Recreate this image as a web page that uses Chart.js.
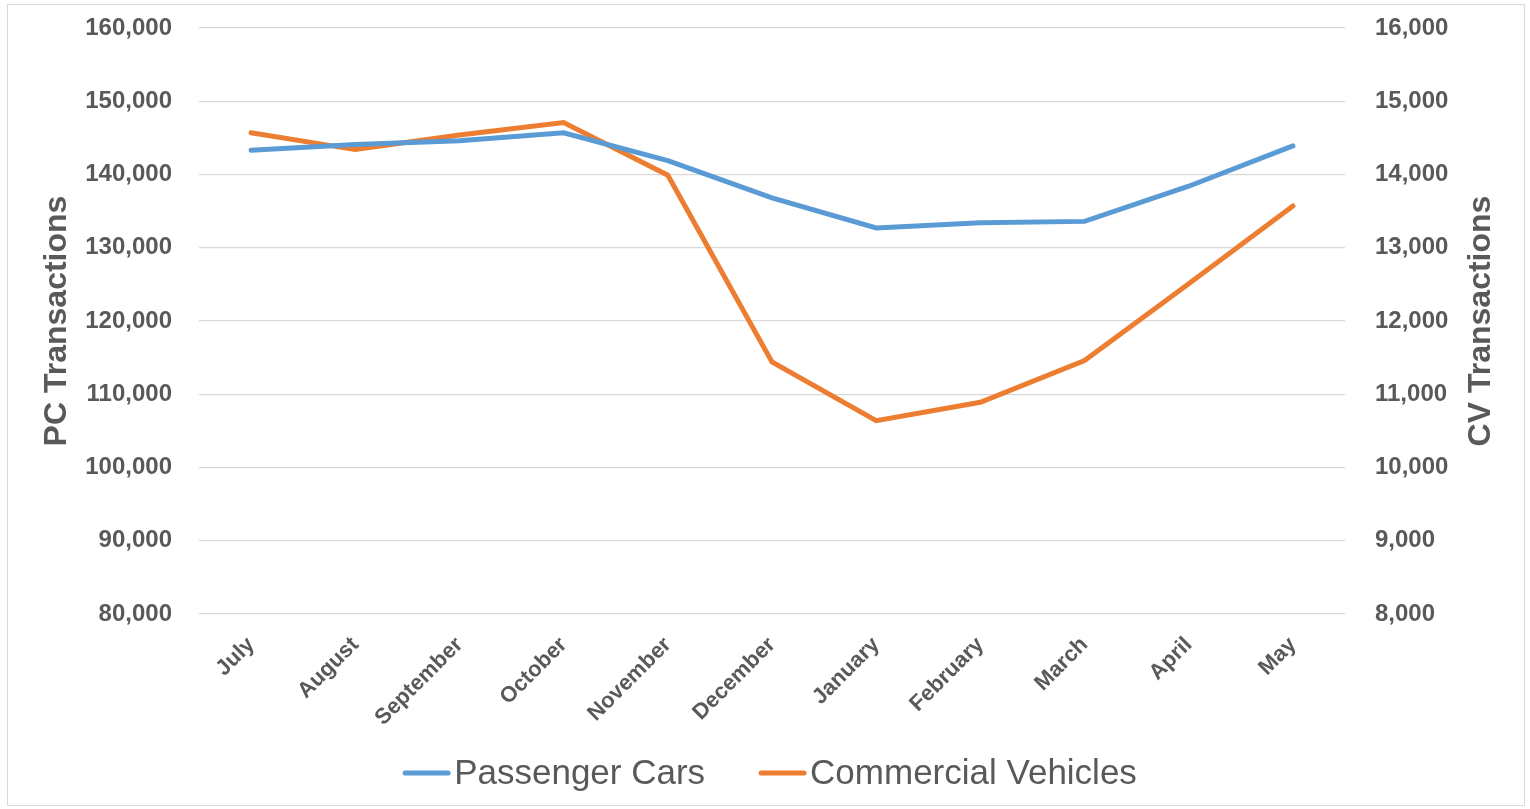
<!DOCTYPE html>
<html>
<head>
<meta charset="utf-8">
<script src="https://cdn.jsdelivr.net/npm/chart.js@4"></script>
<style>
html, body { margin: 0; padding: 0; background: #fff; }
#wrap { position: absolute; left: 0; top: 0; width: 1530px; height: 809px; }
</style>
</head>
<body>
<div id="wrap"><canvas id="myChart"></canvas></div>
<script>
const months = ['July', 'August', 'September', 'October', 'November', 'December', 'January', 'February', 'March', 'April', 'May'];
const passengerCars = [143300, 144100, 144600, 145700, 141900, 136800, 132700, 133400, 133600, 138400, 143900];
const commercialVehicles = [14570, 14340, 14540, 14710, 13990, 11440, 10640, 10890, 11460, 12510, 13570];

const TEXT = '#595959';
const BLUE = '#5b9bd5';
const ORANGE = '#ed7d31';
const FONT = "'Liberation Sans', Arial, sans-serif";

// thin grey frame round the whole chart
const frame = {
    id: 'frame',
    beforeDraw(chart) {
        const c = chart.ctx;
        c.save();
        c.strokeStyle = '#d9d9d9';
        c.lineWidth = 1;
        c.strokeRect(7.5, 4.5, 1517, 801);
        c.restore();
    }
};

// right axis title reads bottom to top, like the left one
const rightTitle = {
    id: 'rightTitle',
    afterDraw(chart) {
        const c = chart.ctx;
        const area = chart.chartArea;
        c.save();
        c.translate(1481, (area.top + area.bottom) / 2);
        c.rotate(-Math.PI / 2);
        c.fillStyle = TEXT;
        c.font = 'bold 32px ' + FONT;
        c.textAlign = 'center';
        c.textBaseline = 'middle';
        c.fillText('CV Transactions', 0, 0);
        c.restore();
    }
};

// legend: short line then the label, close together
const lineLegend = {
    id: 'lineLegend',
    afterDraw(chart) {
        const c = chart.ctx;
        const sets = chart.data.datasets;
        const lineW = 47, gapText = 4, gapItem = 54, y = 773;
        c.save();
        c.font = '35px ' + FONT;
        const widths = sets.map(d => c.measureText(d.label).width);
        let total = 0;
        widths.forEach((w, i) => { total += lineW + gapText + w + (i ? gapItem : 0); });
        let x = 770 - total / 2;
        sets.forEach((d, i) => {
            c.strokeStyle = d.borderColor;
            c.lineWidth = 5;
            c.lineCap = 'round';
            c.beginPath();
            c.moveTo(x + 2, y);
            c.lineTo(x + lineW - 2, y);
            c.stroke();
            c.fillStyle = TEXT;
            c.textBaseline = 'middle';
            c.fillText(d.label, x + lineW + gapText, y + 1);
            x += lineW + gapText + widths[i] + gapItem;
        });
        c.restore();
    }
};

const fmt = v => v.toLocaleString('en-US');
const noPad = scale => { scale.paddingTop = 0; scale.paddingBottom = 0; };

new Chart(document.getElementById('myChart'), {
    type: 'line',
    data: {
        labels: months,
        datasets: [
            {
                label: 'Passenger Cars',
                data: passengerCars,
                yAxisID: 'y',
                borderColor: BLUE,
                backgroundColor: BLUE,
                borderWidth: 5,
                borderCapStyle: 'round',
                pointRadius: 0,
                tension: 0
            },
            {
                label: 'Commercial Vehicles',
                data: commercialVehicles,
                yAxisID: 'y1',
                borderColor: ORANGE,
                backgroundColor: ORANGE,
                borderWidth: 5,
                borderCapStyle: 'round',
                pointRadius: 0,
                tension: 0
            }
        ]
    },
    options: {
        responsive: true,
        maintainAspectRatio: false,
        animation: false,
        layout: { padding: { left: 34, right: 29, top: 28, bottom: 66 } },
        plugins: {
            tooltip: { enabled: false },
            legend: { display: false }
        },
        scales: {
            x: {
                offset: true,
                grid: { display: false },
                border: { display: false },
                ticks: {
                    color: TEXT,
                    font: { family: FONT, size: 22, weight: 'bold' },
                    minRotation: 45,
                    maxRotation: 45,
                    padding: 10
                },
                afterFit(scale) { scale.height = 129; }
            },
            y: {
                position: 'left',
                min: 80000,
                max: 160000,
                grid: { color: '#d9d9d9', lineWidth: 1.3, drawTicks: false },
                border: { display: false },
                ticks: {
                    stepSize: 10000,
                    color: TEXT,
                    padding: 27,
                    font: { family: FONT, size: 24, weight: 'bold' },
                    callback: v => fmt(v)
                },
                title: {
                    display: true,
                    text: 'PC Transactions',
                    color: TEXT,
                    font: { family: FONT, size: 32, weight: 'bold' }
                },
                afterFit(scale) { scale.width = 165; noPad(scale); }
            },
            y1: {
                position: 'right',
                min: 8000,
                max: 16000,
                grid: { display: false, drawTicks: false },
                border: { display: false },
                ticks: {
                    stepSize: 1000,
                    color: TEXT,
                    padding: 30,
                    font: { family: FONT, size: 24, weight: 'bold' },
                    callback: v => fmt(v)
                },
                afterFit(scale) { scale.width = 156; noPad(scale); }
            }
        }
    },
    plugins: [frame, rightTitle, lineLegend]
});
</script>
</body>
</html>
